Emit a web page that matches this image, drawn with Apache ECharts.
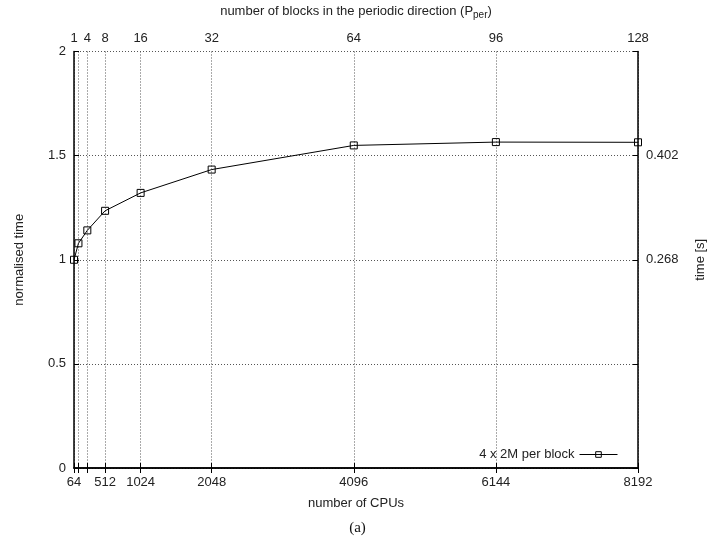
<!DOCTYPE html>
<html>
<head>
<meta charset="utf-8">
<script src="https://cdn.jsdelivr.net/npm/echarts@6/dist/echarts.min.js"></script>
<style>
  html, body { margin: 0; padding: 0; background: #fff; }
  #chart { width: 715px; height: 545px; }
</style>
</head>
<body>
<div id="chart"></div>
<script>
// number of CPUs and the normalised time
var cpus = [64, 128, 256, 512, 1024, 2048, 4096, 6144, 8192];
var normTime = [1.0, 1.079, 1.141, 1.235, 1.321, 1.433, 1.549, 1.565, 1.564];

// tick positions
var cpuTicks = [64, 128, 256, 512, 1024, 2048, 4096, 6144, 8192];
var cpuLabels = [64, 512, 1024, 2048, 4096, 6144, 8192];
var blockTicks = [1, 2, 4, 8, 16, 32, 64, 96, 128];
var blockLabels = [1, 4, 8, 16, 32, 64, 96, 128];
var timeLabels = ["0.268", "0.402"];

var font = "Liberation Sans";

var chart = echarts.init(document.getElementById("chart"));

var seriesData = [];
for (var i = 0; i < cpus.length; i++) {
  seriesData.push([cpus[i], normTime[i]]);
}

var dotted = { show: true, lineStyle: { color: "#555", type: [1, 2], width: 1 } };
var axisLineBlack = { show: true, lineStyle: { color: "#000", width: 1.5 } };
var lbl = { color: "#222", fontSize: 13, fontFamily: font };
var plain = function (v) { return String(v); };

chart.setOption({
  animation: false,
  title: {
    text: "(a)",
    left: "center",
    bottom: 4,
    textStyle: { fontFamily: "Liberation Serif", fontWeight: "normal", fontSize: 15, color: "#111" }
  },
  grid: { left: 74, right: 75, top: 51, bottom: 77 },
  legend: {
    right: 92,
    bottom: 79,
    align: "right",
    itemWidth: 38,
    itemHeight: 7,
    itemGap: 4,
    lineStyle: { width: 1 },
    itemStyle: { borderWidth: 1 },
    textStyle: { fontFamily: font, fontSize: 13, color: "#222" },
    data: ["4 x 2M per block"]
  },
  xAxis: [
    {
      type: "value",
      position: "bottom",
      min: 64,
      max: 8192,
      name: "number of CPUs",
      nameLocation: "middle",
      nameGap: 29,
      nameTextStyle: { fontFamily: font, fontSize: 13, color: "#222" },
      axisLine: axisLineBlack,
      axisTick: { inside: true, length: 5, customValues: cpuTicks, lineStyle: { color: "#000" } },
      axisLabel: Object.assign({ customValues: cpuLabels, margin: 8, formatter: plain }, lbl),
      splitLine: dotted
    },
    {
      type: "value",
      position: "top",
      min: 1,
      max: 128,
      name: "number of blocks in the periodic direction (P{sub|per})",
      nameLocation: "middle",
      nameGap: 31,
      nameTextStyle: {
        fontFamily: font, fontSize: 13, color: "#222",
        rich: { sub: { fontFamily: font, fontSize: 10, color: "#222", verticalAlign: "bottom", padding: [8, 0, 0, 0] } }
      },
      axisLine: axisLineBlack,
      axisTick: { inside: true, length: 5, customValues: blockTicks, lineStyle: { color: "#000" } },
      axisLabel: Object.assign({ customValues: blockLabels, margin: 7, formatter: plain }, lbl),
      splitLine: { show: false }
    }
  ],
  yAxis: [
    {
      type: "value",
      position: "left",
      min: 0,
      max: 2,
      interval: 0.5,
      name: "normalised time",
      nameLocation: "middle",
      nameGap: 48,
      nameTextStyle: { fontFamily: font, fontSize: 13, color: "#222" },
      axisLine: axisLineBlack,
      axisTick: { inside: true, length: 5, lineStyle: { color: "#000" } },
      axisLabel: Object.assign({ margin: 8 }, lbl),
      splitLine: dotted
    },
    {
      type: "value",
      position: "right",
      min: 0,
      max: 0.536,
      interval: 0.134,
      name: "time [s]",
      nameLocation: "middle",
      nameGap: 56,
      nameTextStyle: { fontFamily: font, fontSize: 13, color: "#222" },
      axisLine: axisLineBlack,
      axisTick: { inside: true, length: 5, lineStyle: { color: "#000" } },
      axisLabel: Object.assign({
        margin: 8,
        formatter: function (v) {
          var s = v.toFixed(3);
          return timeLabels.indexOf(s) >= 0 ? s : "";
        }
      }, lbl),
      splitLine: { show: false }
    }
  ],
  series: [
    {
      name: "4 x 2M per block",
      type: "line",
      xAxisIndex: 0,
      yAxisIndex: 0,
      data: seriesData,
      symbol: "rect",
      symbolSize: 7,
      lineStyle: { color: "#000", width: 1 },
      itemStyle: { color: "rgba(255,255,255,0)", borderColor: "#000", borderWidth: 1 }
    }
  ]
});
</script>
</body>
</html>
